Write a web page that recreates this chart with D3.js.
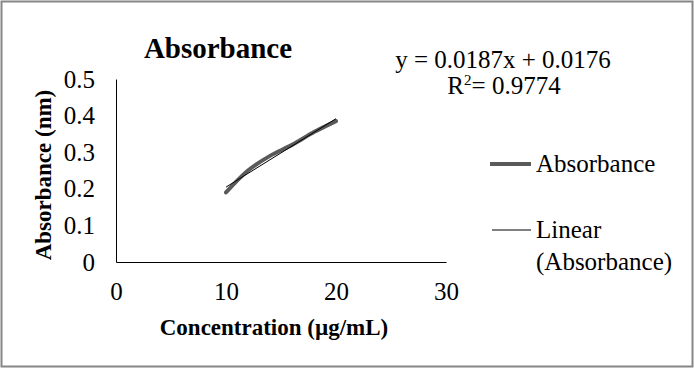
<!DOCTYPE html>
<html>
<head>
<meta charset="utf-8">
<script src="https://cdn.jsdelivr.net/npm/d3@7"></script>
<style>
  html, body { margin: 0; padding: 0; background: #fff; }
  svg { display: block; font-family: "Liberation Serif", "DejaVu Serif", serif; }
</style>
</head>
<body>
<svg id="chart" width="694" height="368"></svg>
<script>
// data
var conc = [10, 12, 14, 16, 18, 20];
var absorb = [0.19, 0.25, 0.29, 0.32, 0.355, 0.385];
var xTicks = [0, 10, 20, 30];
var yTicks = [0, 0.1, 0.2, 0.3, 0.4, 0.5];
var slope = 0.0187, intercept = 0.0176;
var eqText = "y = 0.0187x + 0.0176";
var r2Text = "= 0.9774";

var svg = d3.select("#chart");

// outer frame
svg.append("rect")
  .attr("x", 1.5).attr("y", 1.5)
  .attr("width", 691).attr("height", 365)
  .attr("fill", "#fff")
  .attr("stroke", "#868686")
  .attr("stroke-width", 2);

var x = d3.scaleLinear().domain([0, 30]).range([116, 446]);
var y = d3.scaleLinear().domain([0, 0.5]).range([262, 79]);

// axes
var xAxis = d3.axisBottom(x).tickValues(xTicks).tickSize(0).tickPadding(20).tickFormat(d3.format("d"));
var gx = svg.append("g").attr("transform", "translate(0," + y(0) + ")").call(xAxis);
gx.select(".domain").attr("stroke", "#000");
gx.selectAll("text").attr("font-size", 25).attr("font-family", "Liberation Serif").attr("fill", "#000");

var yAxis = d3.axisLeft(y).tickValues(yTicks).tickSize(0).tickPadding(21)
  .tickFormat(function (d) { return d === 0 ? "0" : d3.format(".1f")(d); });
var gy = svg.append("g").attr("transform", "translate(" + x(0) + ",0)").call(yAxis);
gy.select(".domain").attr("stroke", "#000");
gy.selectAll("text").attr("font-size", 25).attr("font-family", "Liberation Serif").attr("fill", "#000");

// series
var pts = conc.map(function (c, i) { return [c, absorb[i]]; });
var line = d3.line()
  .x(function (d) { return x(d[0]); })
  .y(function (d) { return y(d[1]); })
  .curve(d3.curveCatmullRom);

svg.append("path")
  .datum(pts)
  .attr("d", line)
  .attr("fill", "none")
  .attr("stroke", "#5a5a5a")
  .attr("stroke-width", 4)
  .attr("stroke-linecap", "round");

// linear trend
var x0 = d3.min(conc), x1 = d3.max(conc);
svg.append("line")
  .attr("x1", x(x0)).attr("y1", y(slope * x0 + intercept))
  .attr("x2", x(x1)).attr("y2", y(slope * x1 + intercept))
  .attr("stroke", "#000")
  .attr("stroke-width", 1);

// title
svg.append("text")
  .attr("x", 218).attr("y", 58)
  .attr("text-anchor", "middle")
  .attr("font-size", 29).attr("font-weight", "bold")
  .text("Absorbance");

// equation
svg.append("text")
  .attr("x", 503).attr("y", 68)
  .attr("text-anchor", "middle")
  .attr("font-size", 25)
  .text(eqText);
var r2 = svg.append("text")
  .attr("x", 504).attr("y", 94)
  .attr("text-anchor", "middle")
  .attr("font-size", 25);
r2.append("tspan").text("R");
r2.append("tspan").attr("font-size", 15).attr("dy", -9).text("2");
r2.append("tspan").attr("dy", 9).text(r2Text);

// axis titles
svg.append("text")
  .attr("x", 274).attr("y", 335)
  .attr("text-anchor", "middle")
  .attr("font-size", 23).attr("font-weight", "bold")
  .text("Concentration (µg/mL)");

svg.append("text")
  .attr("transform", "translate(51,175) rotate(-90)")
  .attr("text-anchor", "middle")
  .attr("font-size", 23).attr("font-weight", "bold")
  .text("Absorbance (nm)");

// legend
var lg = svg.append("g");
lg.append("line").attr("x1", 490).attr("x2", 531).attr("y1", 164).attr("y2", 164)
  .attr("stroke", "#5a5a5a").attr("stroke-width", 4);
lg.append("text").attr("x", 536).attr("y", 172).attr("font-size", 25).text("Absorbance");
lg.append("line").attr("x1", 492).attr("x2", 531).attr("y1", 230).attr("y2", 230)
  .attr("stroke", "#000").attr("stroke-width", 1);
lg.append("text").attr("x", 536).attr("y", 238).attr("font-size", 25).text("Linear");
lg.append("text").attr("x", 536).attr("y", 270).attr("font-size", 25).text("(Absorbance)");
</script>
</body>
</html>
